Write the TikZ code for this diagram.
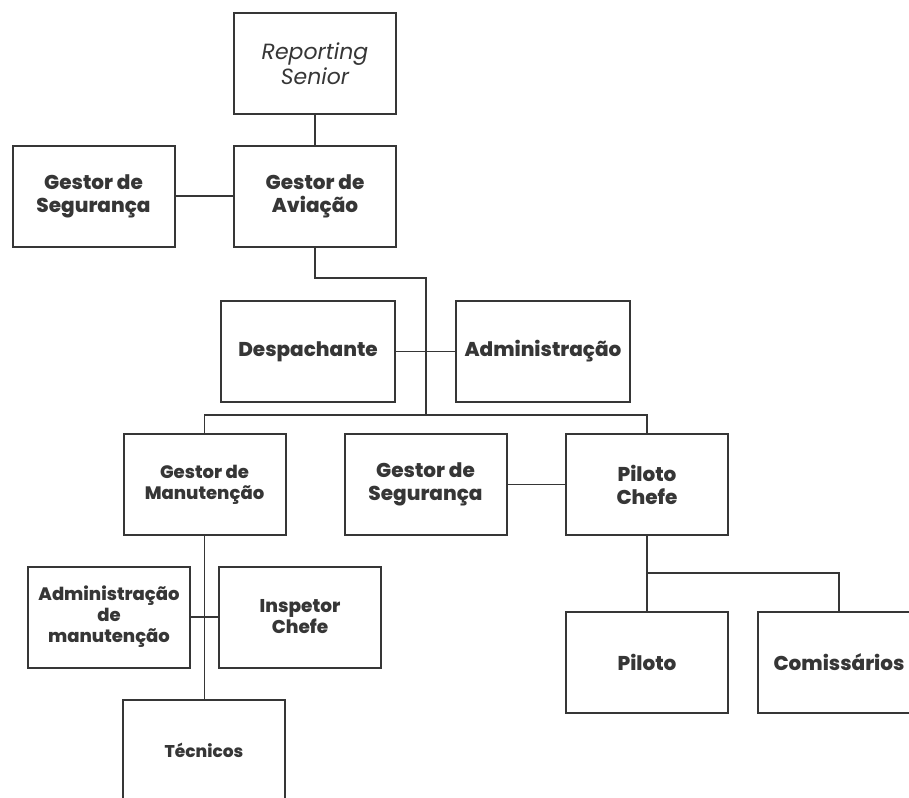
\documentclass[tikz,border=0pt]{standalone}
\usepackage{fontspec}
\setmainfont{Poppins}
\newfontfamily\heavy{Poppins ExtraBold}
\definecolor{ink}{HTML}{363636}
\begin{document}
\begin{tikzpicture}[x=1pt,y=-1pt,
  box/.style={draw=ink, line width=2pt, fill=white, minimum width=162pt, minimum height=101pt,
    inner sep=0pt, align=center, text=ink, font=\fontsize{20}{23}\selectfont\heavy},
  wire/.style={draw=ink, line width=1.9pt}]
\useasboundingbox (0,0) rectangle (909,797);
\clip (0,0) rectangle (909,797);
\fill[white] (0,0) rectangle (909,797);

% top chain
\node[box, font=\fontsize{22}{25}\selectfont\itshape] (rs) at (315,63.5) {Reporting\\Senior};
\node[box] (ga) at (315,196) {Gestor de\\Aviação};
\node[box] (gs1) at (93.5,196) {Gestor de\\Segurança};

% staff level
\node[box, minimum width=174pt] (desp) at (308,351.5) {Despachante};
\node[box, minimum width=174pt] (adm) at (543,351.5) {Administração};

% department heads
\node[box, font=\fontsize{18}{21}\selectfont\heavy] (gm) at (204.5,484.5) {Gestor de\\Manutenção};
\node[box] (gs2) at (425.5,484.5) {Gestor de\\Segurança};
\node[box] (pc) at (647,484.5) {Piloto\\Chefe};

% maintenance branch
\node[box, font=\fontsize{18}{21}\selectfont\heavy] (am) at (109,617) {Administração\\de\\manutenção};
\node[box, font=\fontsize{18.5}{21}\selectfont\heavy] (ic) at (300,617) {Inspetor\\Chefe};
\node[box, font=\fontsize{17}{21}\selectfont\heavy] (tec) at (204,750) {Técnicos};

% flight branch
\node[box] (pil) at (647,662.5) {Piloto};
\node[box] (com) at (839,662.5) {Comissários};

\coordinate (spine) at (426,415);

\draw[wire] (rs) -- (ga);
\draw[wire] (gs1) -- (ga);
\draw[wire] (ga.south) |- (426,278) -- (spine);
\draw[wire] (desp) -- (adm);
\draw[wire] (gm.north) |- (spine) -| (pc.north);
\draw[wire] (gs2) -- (pc);
\draw[wire] (gm.south) -- (gm.south |- tec.north);
\draw[wire] (am) -- (ic);
\draw[wire] (pc) -- (pil);
\draw[wire] (647,573) -| (com.north);
\end{tikzpicture}
\end{document}
